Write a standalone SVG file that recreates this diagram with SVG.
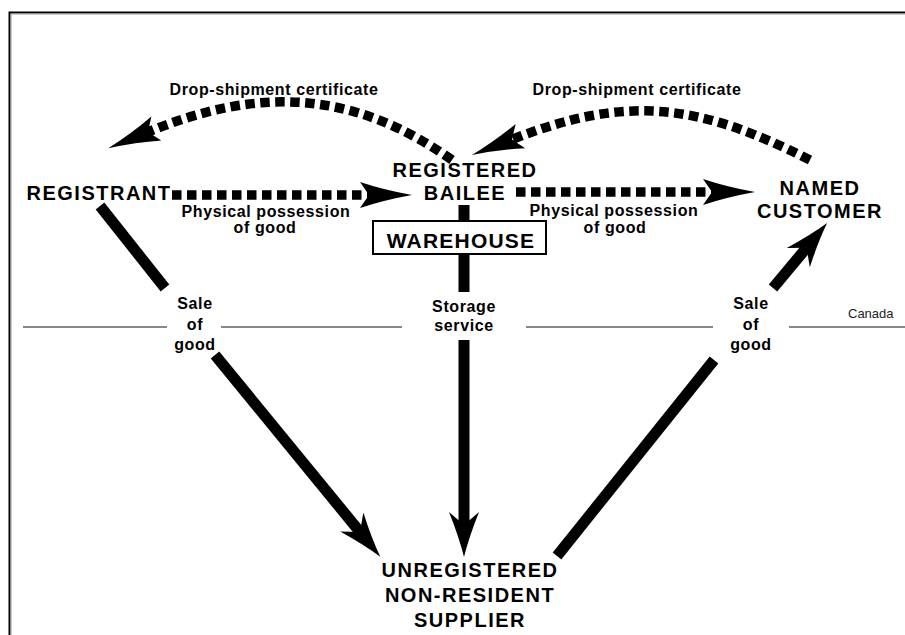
<svg xmlns="http://www.w3.org/2000/svg" width="905" height="635" viewBox="0 0 905 635">
<style>
.node{font-family:"Liberation Sans",Arial,sans-serif;font-weight:bold;font-size:20px;letter-spacing:1.5px;text-anchor:middle;fill:#000}
.lbl{font-family:"Liberation Sans",Arial,sans-serif;font-weight:bold;font-size:16px;letter-spacing:0.6px;text-anchor:middle;fill:#000}
.solid{fill:none;stroke:#000;stroke-width:11;stroke-linecap:butt}
.dot{fill:none;stroke:#000;stroke-width:9.5;stroke-dasharray:9.5 5.5;stroke-linecap:butt}
</style>
<defs>
<marker id="hs" markerUnits="userSpaceOnUse" orient="auto" viewBox="-50 -50 100 100" markerWidth="100" markerHeight="100" refX="0" refY="0">
<path d="M32 0 Q12 -5 -13 -15 L0 0 L-13 15 Q12 5 32 0 Z" fill="#000"/>
</marker>
<marker id="hd" markerUnits="userSpaceOnUse" orient="auto" viewBox="-50 -50 100 100" markerWidth="100" markerHeight="100" refX="0" refY="0">
<path d="M43 0 Q15 -5 -9 -13 L0 0 L-9 13 Q15 5 43 0 Z" fill="#000"/>
</marker>
</defs>
<rect width="905" height="635" fill="#fff"/>
<g id="frame">
<path d="M9.5 635 V12.5 H905" fill="none" stroke="#000" stroke-width="2"/>
<path d="M11 635 V14 H905" fill="none" stroke="#999" stroke-width="1"/>
</g>
<g id="border-line">
<path d="M23 327 H167 M221 327 H402 M526 327 H713 M789 327 H905" fill="none" stroke="#888" stroke-width="2"/>
<text x="848" y="318" font-family="Liberation Sans,Arial,sans-serif" font-size="13" fill="#222">Canada</text>
</g>
<g id="connectors">
<path class="solid" d="M100 206 L165 288"/>
<path class="solid" d="M215 355 L360 532" marker-end="url(#hs)"/>
<path class="solid" d="M464 205 V221 M464 254 V292"/>
<path class="solid" d="M464 340 V525" marker-end="url(#hs)"/>
<path class="solid" d="M557 556 L714 360"/>
<path class="solid" d="M773 288 L806.6 247.7" marker-end="url(#hs)"/>
<path class="dot" d="M172 195 H369" marker-end="url(#hd)"/>
<path class="dot" d="M516 192 H712" marker-end="url(#hd)"/>
<path class="dot" d="M452 160 C350 88 255 88 148 132" marker-end="url(#hd)"/>
<path class="dot" d="M810 160 C699 104 628 94 512 139.4" marker-end="url(#hd)"/>
<text class="lbl" x="274" y="95">Drop-shipment certificate</text>
<text class="lbl" x="637" y="95">Drop-shipment certificate</text>
<text class="lbl" x="266" y="217">Physical possession</text>
<text class="lbl" x="265" y="233">of good</text>
<text class="lbl" x="614" y="216">Physical possession</text>
<text class="lbl" x="615" y="233">of good</text>
<text class="lbl" x="195" y="309">Sale</text>
<text class="lbl" x="195" y="330">of</text>
<text class="lbl" x="195" y="350">good</text>
<text class="lbl" x="464" y="312">Storage</text>
<text class="lbl" x="464" y="331">service</text>
<text class="lbl" x="751" y="309">Sale</text>
<text class="lbl" x="751" y="330">of</text>
<text class="lbl" x="751" y="350">good</text>
</g>
<g id="registrant">
<text class="node" x="99" y="200">REGISTRANT</text>
</g>
<g id="registered-bailee">
<text class="node" x="465" y="177">REGISTERED</text>
<text class="node" x="465" y="200">BAILEE</text>
</g>
<g id="warehouse">
<rect x="373" y="221" width="173" height="33" fill="#fff" stroke="#000" stroke-width="2"/>
<text class="node" x="461" y="248" style="font-size:21px;letter-spacing:1.2px">WAREHOUSE</text>
</g>
<g id="named-customer">
<text class="node" x="820" y="195">NAMED</text>
<text class="node" x="820" y="218">CUSTOMER</text>
</g>
<g id="supplier">
<text class="node" x="470" y="577">UNREGISTERED</text>
<text class="node" x="470" y="602">NON-RESIDENT</text>
<text class="node" x="470" y="627">SUPPLIER</text>
</g>
</svg>
